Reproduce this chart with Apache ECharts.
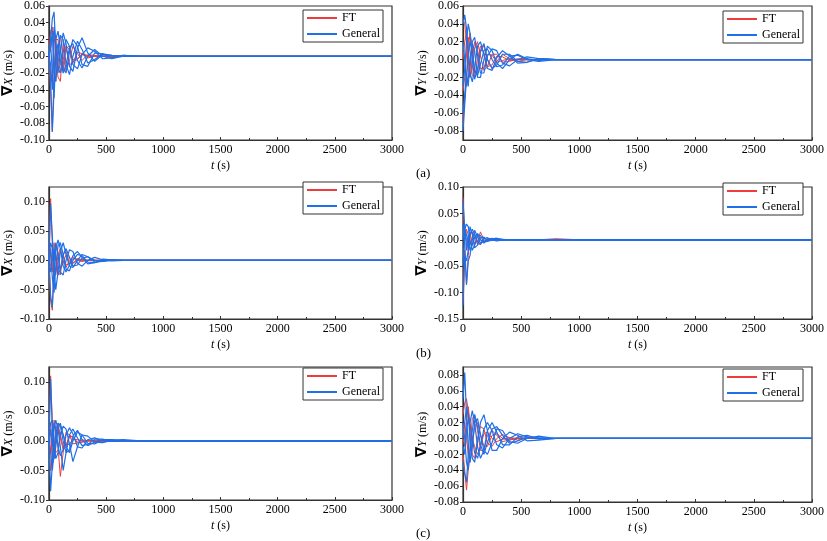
<!DOCTYPE html>
<html><head><meta charset="utf-8">
<script src="https://cdn.jsdelivr.net/npm/echarts@6/dist/echarts.min.js"></script>
<style>html,body{margin:0;padding:0;background:#fff}#c{width:827px;height:541px}</style>
</head><body><div id="c"></div>
<script>
// shared time grid (s)
const T = [0, 15, 30, 45, 60, 80, 100, 125, 150, 180, 210, 250, 290, 340, 400, 470, 550, 650, 800, 1000, 3000];

// (a) ∇X
const aX_FT = [
  [0, 0.03, 0.035, -0.01, -0.03, 0.01, 0.025, 0.0, -0.018, -0.005, 0.012, 0.003, -0.005, 0.002, 0.001, 0, 0, 0, 0, 0, 0],
  [0, -0.04, -0.09, -0.02, 0.02, 0.02, -0.01, -0.015, 0.01, 0.012, -0.006, -0.004, 0.003, 0.001, 0, 0, 0, 0, 0, 0, 0],
  [0, 0.01, 0.02, 0.03, 0.0, -0.025, -0.03, 0.015, 0.01, -0.01, -0.008, 0.005, 0.003, -0.002, 0, 0, 0, 0, 0, 0, 0],
  [0, -0.02, -0.03, 0.02, 0.015, 0.0, -0.02, -0.01, 0.012, 0.008, -0.004, -0.003, 0.002, 0, 0, 0, 0, 0, 0, 0, 0]
];
const aX_Gen = [
  [0, 0.02, 0.045, 0.053, 0.01, -0.02, 0.005, 0.028, 0.015, -0.012, -0.018, 0.01, 0.022, 0.004, -0.006, 0.002, 0.001, 0, 0, 0, 0],
  [0, -0.03, -0.09, -0.04, 0.02, 0.03, 0.01, -0.015, -0.02, 0.005, 0.02, 0.012, -0.01, -0.012, 0.004, 0.003, -0.002, 0.001, 0, 0, 0],
  [0, 0.01, 0.03, -0.02, -0.03, 0.0, 0.025, 0.02, -0.01, -0.022, 0.0, 0.018, 0.008, -0.008, -0.004, 0.003, 0.001, 0, 0, 0, 0],
  [0, -0.01, -0.04, 0.035, 0.02, -0.015, -0.02, 0.005, 0.02, 0.012, -0.01, -0.015, 0.002, 0.01, 0.006, -0.003, -0.002, 0.001, 0, 0, 0],
  [0, 0.015, -0.02, -0.05, 0.0, 0.015, -0.005, -0.02, -0.01, 0.01, 0.015, -0.005, -0.014, 0.0, 0.008, 0.0, -0.003, 0, 0, 0, 0]
];
// (a) ∇Y
const aY_FT = [
  [-0.07, -0.045, -0.02, 0.01, 0.03, 0.015, -0.015, -0.015, 0.008, 0.016, 0.0, -0.01, -0.002, 0.006, 0.001, -0.002, 0, 0, 0, 0, 0],
  [0.045, 0.04, 0.02, -0.01, -0.02, -0.01, 0.012, 0.02, 0.004, -0.012, -0.008, 0.006, 0.006, -0.003, -0.002, 0.001, 0, 0, 0, 0, 0],
  [-0.035, -0.02, 0.005, 0.025, 0.01, -0.018, -0.02, 0.0, 0.015, 0.008, -0.008, -0.006, 0.004, 0.003, -0.001, 0, 0, 0, 0, 0, 0],
  [0.0, 0.02, 0.03, 0.0, -0.02, 0.0, 0.02, 0.01, -0.01, -0.01, 0.006, 0.005, -0.003, -0.001, 0.001, 0, 0, 0, 0, 0, 0]
];
const aY_Gen = [
  [-0.08, -0.05, -0.02, 0.005, 0.02, 0.01, -0.012, -0.018, -0.005, 0.01, 0.012, 0.0, -0.008, -0.006, 0.004, 0.005, 0.0, -0.002, 0, 0, 0],
  [0.04, 0.05, 0.035, 0.01, -0.015, -0.025, -0.01, 0.015, 0.02, 0.005, -0.01, -0.012, 0.002, 0.01, 0.004, -0.004, -0.003, 0.001, 0, 0, 0],
  [-0.03, -0.01, 0.02, 0.04, 0.03, 0.0, -0.022, -0.01, 0.01, 0.018, 0.0, -0.01, -0.006, 0.006, 0.006, -0.002, -0.003, 0.001, 0, 0, 0],
  [0.02, 0.0, -0.03, -0.028, -0.01, 0.02, 0.025, 0.005, -0.015, -0.015, 0.004, 0.012, 0.01, -0.004, -0.007, 0.0, 0.003, 0.001, 0, 0, 0],
  [-0.06, -0.04, -0.015, -0.03, 0.0, 0.018, 0.01, -0.02, -0.02, 0.0, 0.015, 0.01, -0.004, -0.01, 0.0, 0.006, 0.001, -0.001, 0, 0, 0]
];
// (b) ∇X
const bX_FT = [
  [0, 0.105, 0.03, -0.03, -0.02, 0.01, 0.02, 0.0, -0.012, 0.0, 0.006, 0.0, -0.002, 0, 0, 0, 0, 0, 0, 0, 0],
  [0, -0.07, -0.085, 0.0, 0.025, 0.01, -0.015, -0.005, 0.01, 0.004, -0.004, 0.0, 0.001, 0, 0, 0, 0, 0, 0, 0, 0],
  [0, 0.01, -0.02, 0.03, 0.01, -0.02, -0.025, 0.01, 0.015, -0.005, -0.006, 0.003, 0.001, 0, 0, 0, 0, 0, 0, 0, 0],
  [0, -0.01, 0.02, -0.01, -0.025, 0.0, 0.015, 0.008, -0.008, -0.006, 0.003, 0.002, 0, 0, 0, 0, 0, 0, 0, 0, 0]
];
const bX_Gen = [
  [0, 0.097, 0.04, -0.02, -0.05, -0.02, 0.015, 0.03, 0.01, -0.01, -0.012, 0.0, 0.01, 0.006, -0.003, -0.002, 0.001, 0, 0, 0, 0],
  [0, -0.06, -0.08, -0.02, 0.02, 0.035, 0.02, -0.01, -0.02, -0.008, 0.008, 0.015, 0.005, -0.006, -0.004, 0.002, 0.001, 0, 0, 0, 0],
  [0, 0.02, -0.03, -0.055, -0.01, 0.025, 0.03, 0.01, -0.015, -0.018, 0.0, 0.01, 0.008, -0.003, -0.004, 0.0, 0.001, 0, 0, 0, 0],
  [0, 0.03, 0.02, 0.0, 0.03, 0.01, -0.02, -0.025, 0.0, 0.018, 0.015, -0.005, -0.01, 0.0, 0.005, 0.001, -0.001, 0, 0, 0, 0],
  [0, -0.02, 0.0, 0.02, 0.0, -0.025, -0.015, 0.01, 0.02, 0.005, -0.01, -0.008, 0.004, 0.006, 0.0, -0.002, 0, 0, 0, 0, 0]
];
// (b) ∇Y
const bY_FT = [
  [0.08, 0.0, 0.02, 0.01, -0.01, 0.005, 0.01, -0.005, 0.015, 0.0, -0.003, 0.002, 0, 0, 0, 0, 0, 0, 0.002, 0, 0],
  [-0.12, -0.02, -0.085, -0.03, 0.01, 0.015, -0.01, 0.0, -0.01, 0.004, 0.0, -0.001, 0, 0, 0, 0, 0, 0, 0, 0, 0],
  [0.02, 0.01, 0.0, -0.02, 0.015, -0.01, 0.005, 0.01, 0.0, -0.003, 0.001, 0, 0, 0, 0, 0, 0, 0, 0, 0, 0]
];
const bY_Gen = [
  [0.075, 0.02, 0.03, 0.025, 0.0, -0.02, -0.01, 0.01, 0.008, -0.004, -0.003, 0.002, 0.003, 0.001, 0, 0, 0, 0, 0, 0, 0],
  [-0.125, -0.03, -0.04, -0.02, 0.01, 0.02, 0.01, -0.008, -0.008, 0.002, 0.004, 0.0, -0.002, 0, 0, 0, 0, 0, 0, 0, 0],
  [0.03, -0.01, -0.085, -0.04, -0.03, 0.0, 0.018, 0.005, -0.006, -0.004, 0.002, 0.002, 0.0, 0.001, 0, 0, 0, 0, 0, 0, 0],
  [-0.05, 0.02, 0.01, -0.01, 0.025, 0.01, -0.015, -0.01, 0.004, 0.005, -0.002, -0.001, 0.002, 0, 0, 0, 0, 0, 0, 0, 0],
  [0.0, 0.03, -0.02, 0.01, -0.02, -0.01, 0.005, 0.012, 0.0, -0.006, 0.0, 0.003, 0.0, -0.001, 0, 0, 0, 0, 0, 0, 0]
];
// (c) ∇X
const cX_FT = [
  [0, 0.11, 0.03, -0.02, 0.0, 0.025, 0.01, -0.01, -0.008, 0.01, 0.006, -0.003, -0.002, 0.001, 0, 0, 0, 0, 0, 0, 0],
  [0, -0.05, -0.03, 0.035, 0.02, -0.01, -0.06, -0.02, 0.015, 0.01, -0.005, -0.004, 0.002, 0, 0, 0, 0, 0, 0, 0, 0],
  [0, 0.02, -0.04, -0.03, 0.02, 0.03, 0.005, -0.015, -0.01, 0.008, 0.006, -0.002, -0.002, 0, 0, 0, 0, 0, 0, 0, 0],
  [0, -0.02, 0.03, 0.0, -0.02, -0.015, 0.015, 0.012, -0.006, -0.006, 0.003, 0.002, 0, 0, 0, 0, 0, 0, 0, 0, 0]
];
const cX_Gen = [
  [0, 0.105, 0.02, -0.03, -0.01, 0.02, 0.03, 0.01, -0.01, -0.02, 0.0, 0.015, 0.01, -0.004, -0.005, 0.002, 0.002, 0.001, 0, 0, 0],
  [0, -0.085, -0.04, 0.02, 0.035, 0.02, -0.01, -0.05, -0.02, 0.01, 0.02, 0.005, -0.008, -0.006, 0.003, 0.003, -0.001, 0, 0, 0, 0],
  [0, 0.03, 0.035, 0.0, -0.03, -0.02, 0.01, 0.025, 0.02, -0.005, -0.035, -0.01, 0.01, 0.008, -0.002, -0.003, 0.001, 0.002, 0, 0, 0],
  [0, -0.02, -0.05, -0.02, 0.01, 0.03, 0.025, 0.0, -0.02, -0.015, 0.008, 0.018, 0.002, -0.008, -0.002, 0.002, 0.0, 0, 0, 0, 0],
  [0, 0.02, -0.01, 0.03, 0.02, -0.01, -0.025, -0.015, 0.01, 0.022, 0.012, -0.01, -0.012, 0.002, 0.005, 0.0, -0.001, 0, 0, 0, 0]
];
// (c) ∇Y
const cY_FT = [
  [0.03, 0.045, 0.05, 0.035, 0.01, -0.02, -0.025, 0.0, 0.015, 0.012, -0.006, -0.01, 0.0, 0.005, 0.001, -0.002, 0, 0, 0, 0, 0],
  [-0.02, -0.04, -0.065, -0.04, -0.01, 0.025, 0.03, 0.01, -0.015, -0.015, 0.004, 0.01, 0.004, -0.004, -0.002, 0.001, 0, 0, 0, 0, 0],
  [0.01, 0.02, 0.0, -0.02, -0.03, -0.01, 0.015, 0.02, 0.005, -0.01, -0.01, 0.004, 0.006, 0.0, -0.002, 0, 0, 0, 0, 0, 0],
  [0.0, -0.01, 0.02, 0.04, 0.02, 0.0, -0.01, -0.02, -0.01, 0.006, 0.008, 0.0, -0.004, -0.001, 0.001, 0, 0, 0, 0, 0, 0]
];
const cY_Gen = [
  [0.05, 0.083, 0.03, -0.01, -0.03, -0.01, 0.02, 0.025, 0.005, -0.015, -0.02, -0.005, 0.012, 0.01, -0.004, -0.006, 0.0, 0.003, 0, 0, 0],
  [-0.03, -0.045, -0.055, -0.02, 0.02, 0.035, 0.02, -0.01, -0.025, -0.015, 0.01, 0.02, 0.008, -0.008, -0.008, 0.002, 0.004, 0.0, 0, 0, 0],
  [0.0, 0.02, 0.04, 0.03, 0.0, -0.025, -0.03, -0.005, 0.02, 0.03, 0.01, -0.015, -0.015, 0.0, 0.008, 0.004, -0.003, -0.002, 0, 0, 0],
  [-0.01, -0.02, 0.01, 0.025, 0.015, 0.0, -0.018, -0.025, -0.01, 0.012, 0.02, 0.01, -0.008, -0.012, 0.0, 0.006, 0.002, -0.001, 0, 0, 0],
  [0.02, 0.0, -0.03, -0.04, -0.02, 0.01, 0.03, 0.015, -0.008, -0.02, -0.005, 0.012, 0.015, 0.004, -0.006, -0.003, 0.002, 0.001, 0, 0, 0]
];

// axis tick labels
const xTicks = [0, 500, 1000, 1500, 2000, 2500, 3000];
const yTicks_aX = [-0.10, -0.08, -0.06, -0.04, -0.02, 0.00, 0.02, 0.04, 0.06];
const yTicks_aY = [-0.08, -0.06, -0.04, -0.02, 0.00, 0.02, 0.04, 0.06];
const yTicks_bX = [-0.10, -0.05, 0.00, 0.05, 0.10];
const yTicks_bY = [-0.15, -0.10, -0.05, 0.00, 0.05, 0.10];
const yTicks_cX = [-0.10, -0.05, 0.00, 0.05, 0.10];
const yTicks_cY = [-0.08, -0.06, -0.04, -0.02, 0.00, 0.02, 0.04, 0.06, 0.08];
const yRange = [[-0.10, 0.06], [-0.09, 0.06], [-0.10, 0.125], [-0.15, 0.10], [-0.10, 0.125], [-0.08, 0.09]];
const yNames = ['X', 'Y', 'X', 'Y', 'X', 'Y'];
const panelLabels = ['(a)', '(b)', '(c)'];

const FONT = "'Liberation Serif','Times New Roman',serif";
const RED = '#ee3b3b';
const BLUE = '#1f6fe6';

const panels = [
  {ft: aX_FT, gen: aX_Gen, ticks: yTicks_aX},
  {ft: aY_FT, gen: aY_Gen, ticks: yTicks_aY},
  {ft: bX_FT, gen: bX_Gen, ticks: yTicks_bX},
  {ft: bY_FT, gen: bY_Gen, ticks: yTicks_bY},
  {ft: cX_FT, gen: cX_Gen, ticks: yTicks_cX},
  {ft: cY_FT, gen: cY_Gen, ticks: yTicks_cY}
];
const gridPos = [
  {left: 43, top: 5, width: 349, height: 135},
  {left: 463, top: 5, width: 349, height: 135},
  {left: 43, top: 187, width: 349, height: 132},
  {left: 463, top: 187, width: 349, height: 132},
  {left: 43, top: 367, width: 349, height: 133},
  {left: 463, top: 367, width: 349, height: 135}
];
const legendPos = [
  {right: 444, top: 10}, {right: 24, top: 11},
  {right: 444, top: 182}, {right: 24, top: 183},
  {right: 444, top: 368}, {right: 24, top: 369}
];

const grids = [], xAxes = [], yAxes = [], series = [], legends = [];
panels.forEach((p, i) => {
  grids.push(Object.assign({show: true, borderColor: '#333', borderWidth: 1.2, backgroundColor: 'transparent'}, gridPos[i]));
  xAxes.push({
    type: 'value', gridIndex: i, min: 0, max: 3000, interval: 500,
    name: '{i|t} (s)', nameLocation: 'middle', nameGap: 20,
    nameTextStyle: {fontFamily: FONT, fontSize: 12, color: '#000', rich: {i: {fontFamily: FONT, fontStyle: 'italic', fontSize: 12, color: '#000'}}},
    axisLine: {onZero: false, lineStyle: {color: '#333', width: 1.2}},
    axisTick: {show: true, inside: true, length: 3, customValues: xTicks, lineStyle: {color: '#333'}},
    minorTick: {show: true, splitNumber: 2, length: 2, lineStyle: {color: '#333'}},
    splitLine: {show: false},
    axisLabel: {fontFamily: FONT, fontSize: 12, color: '#000', margin: 4, customValues: xTicks,
      formatter: v => String(Math.round(v))}
  });
  yAxes.push({
    type: 'value', gridIndex: i, min: yRange[i][0], max: yRange[i][1],
    name: '{n|∇}{i|' + yNames[i] + '} (m/s)', nameLocation: 'middle', nameRotate: 90, nameGap: 27,
    nameTextStyle: {fontFamily: FONT, fontSize: 12, color: '#000',
      rich: {n: {fontFamily: 'DejaVu Sans', fontSize: 15, fontWeight: 'bold', color: '#000'},
             i: {fontFamily: FONT, fontStyle: 'italic', fontSize: 12, color: '#000'}}},
    axisLine: {onZero: false, lineStyle: {color: '#333', width: 1.2}},
    axisTick: {show: true, length: 3, customValues: p.ticks, lineStyle: {color: '#333'}},
    splitLine: {show: false},
    axisLabel: {fontFamily: FONT, fontSize: 12, color: '#000', margin: 4, customValues: p.ticks,
      formatter: v => (Math.abs(v) < 1e-9 ? 0 : v).toFixed(2)}
  });
  p.ft.forEach(arr => series.push({
    name: 'FT', type: 'line', xAxisIndex: i, yAxisIndex: i, showSymbol: false, symbol: 'none',
    lineStyle: {color: RED, width: 1}, itemStyle: {color: RED},
    data: T.map((t, k) => [t, arr[k]])
  }));
  p.gen.forEach(arr => series.push({
    name: 'General', type: 'line', xAxisIndex: i, yAxisIndex: i, showSymbol: false, symbol: 'none',
    lineStyle: {color: BLUE, width: 1.2}, itemStyle: {color: BLUE},
    data: T.map((t, k) => [t, arr[k]])
  }));
  legends.push(Object.assign({
    data: ['FT', 'General'], orient: 'vertical', icon: 'rect', itemWidth: 30, itemHeight: 2, itemGap: 4,
    borderColor: '#333', borderWidth: 1, padding: [2, 3, 2, 4], backgroundColor: '#fff',
    textStyle: {fontFamily: FONT, fontSize: 12, color: '#000'}, selectedMode: false
  }, legendPos[i]));
});

const titles = panelLabels.map((s, r) => ({
  text: s, left: 411, top: [162, 342, 522][r],
  textStyle: {fontFamily: FONT, fontSize: 13, fontWeight: 'normal', color: '#000'}
}));

const chart = echarts.init(document.getElementById('c'), null, {renderer: 'canvas'});
chart.setOption({
  animation: false, backgroundColor: '#fff',
  title: titles, grid: grids, xAxis: xAxes, yAxis: yAxes, legend: legends, series: series
});
</script>
</body></html>
